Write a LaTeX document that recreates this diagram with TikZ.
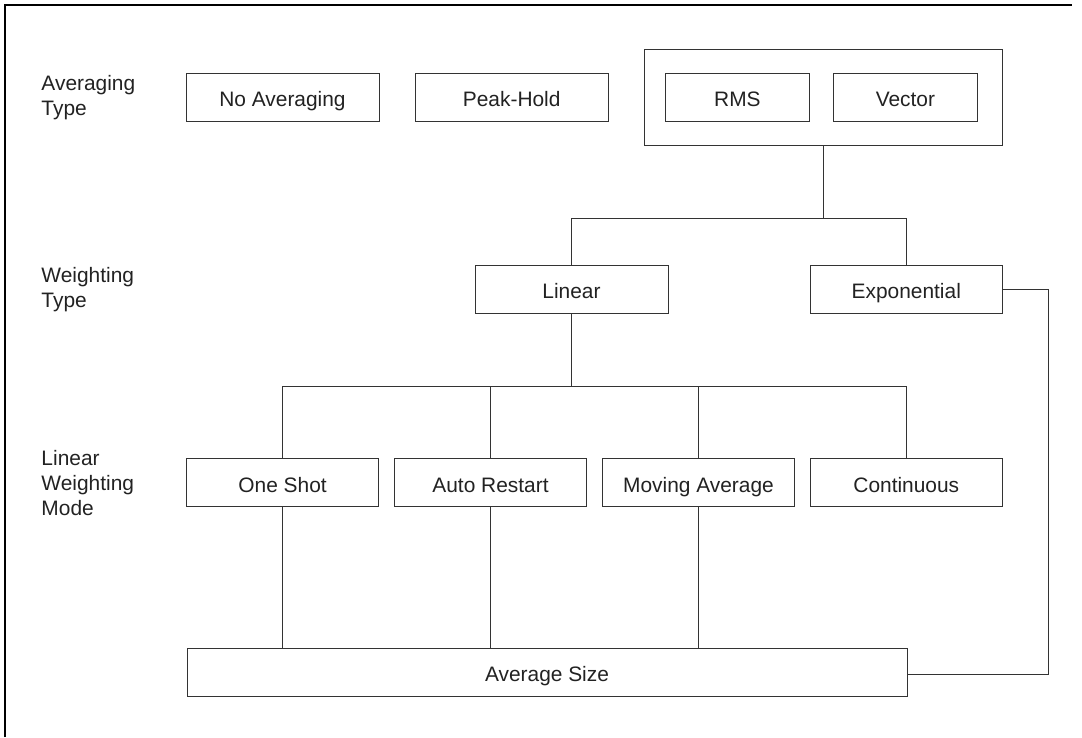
\documentclass[tikz,border=0pt]{standalone}
\usepackage{fontspec}
\setmainfont{Liberation Sans}
\definecolor{ln}{HTML}{333333}
\definecolor{tx}{HTML}{222222}
\begin{document}
\begin{tikzpicture}[x=1pt,y=-1pt,
  box/.style={draw=ln,line width=1pt,minimum height=48pt,inner sep=0pt,text=tx,
    text height=18.5pt,text depth=0pt,
    font=\fontsize{20.9}{24.8}\selectfont},
  wbox/.style={box,minimum width=193pt},
  nbox/.style={box,minimum width=144.5pt},
  lab/.style={anchor=west,align=left,inner sep=0pt,text=tx,font=\fontsize{20.9}{24.8}\selectfont},
  con/.style={draw=ln,line width=1pt},
  frame/.style={draw=black,line width=2pt}]
\useasboundingbox (0,0) rectangle (1082,737);
% frame
\coordinate (fb) at (5.2,737);
\coordinate (ftl) at (5.2,5.3);
\coordinate (ftr) at (1072,5.3);
\draw[frame] (fb) -- (ftl) -- (ftr);
% labels
\node[lab] (l1) at (41.3,97.3) {Averaging\\Type};
\node[lab] (l2) at (41.3,289.5) {Weighting\\Type};
\node[lab] (l3) at (41.3,482.8) {Linear\\Weighting\\Mode};
% top row
\node[wbox] (noavg) at (282.5,97.3) {No Averaging};
\node[wbox] (peak) at (511.7,97.3) {Peak-Hold};
\node[draw=ln,line width=1pt,minimum width=358pt,minimum height=96pt,inner sep=0pt] (grp) at (823.5,97.3) {};
\node[nbox] (rms) at (737.4,97.3) {RMS};
\node[nbox] (vec) at (905.4,97.3) {Vector};
% weighting type
\node[wbox] (lin) at (571.5,289.2) {Linear};
\node[box,minimum width=192.5pt] (exp) at (906.3,289.2) {Exponential};
% linear weighting mode
\node[box,minimum width=192.5pt] (one) at (282.6,482.8) {One Shot};
\node[box,minimum width=192.5pt] (auto) at (490.5,482.8) {Auto Restart};
\node[box,minimum width=192.5pt] (mov) at (698.5,482.8) {Moving Average};
\node[box,minimum width=192.5pt] (cont) at (906.3,482.8) {Continuous};
% average size
\node[box,minimum width=720pt] (avg) at (547,672.3) {Average Size};
% connectors
\coordinate (j1) at (823.5,218.7);
\coordinate (j2) at (571.5,386.7);
\coordinate (rt) at (1048,289.2);
\draw[con] (grp.south) -- (j1);
\draw[con] (j1) -| (lin.north);
\draw[con] (j1) -| (exp.north);
\draw[con] (lin.south) -- (j2);
\draw[con] (j2) -| (one.north);
\draw[con] (j2) -| (auto.north);
\draw[con] (j2) -| (mov.north);
\draw[con] (j2) -| (cont.north);
\draw[con] (one.south) -- (one.south |- avg.north);
\draw[con] (auto.south) -- (auto.south |- avg.north);
\draw[con] (mov.south) -- (mov.south |- avg.north);
\draw[con] (exp.east) -- (rt) -- (rt |- 0,674.7) -- (avg.east |- 0,674.7);
\end{tikzpicture}
\end{document}
